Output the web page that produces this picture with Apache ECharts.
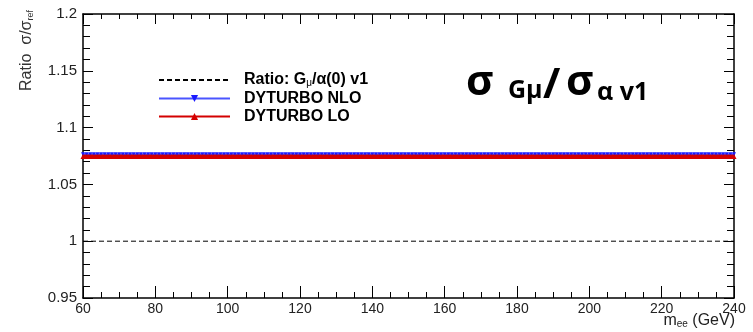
<!DOCTYPE html>
<html><head><meta charset="utf-8">
<script src="https://cdn.jsdelivr.net/npm/echarts@6/dist/echarts.min.js"></script>
<style>html,body{margin:0;padding:0;background:#fff}#c{width:753px;height:332px}</style>
</head><body><div id="c"></div>
<script>
var massBins = [
60,61,62,63,64,65,66,67,68,69,
70,71,72,73,74,75,76,77,78,79,
80,81,82,83,84,85,86,87,88,89,
90,91,92,93,94,95,96,97,98,99,
100,101,102,103,104,105,106,107,108,109,
110,111,112,113,114,115,116,117,118,119,
120,121,122,123,124,125,126,127,128,129,
130,131,132,133,134,135,136,137,138,139,
140,141,142,143,144,145,146,147,148,149,
150,151,152,153,154,155,156,157,158,159,
160,161,162,163,164,165,166,167,168,169,
170,171,172,173,174,175,176,177,178,179,
180,181,182,183,184,185,186,187,188,189,
190,191,192,193,194,195,196,197,198,199,
200,201,202,203,204,205,206,207,208,209,
210,211,212,213,214,215,216,217,218,219,
220,221,222,223,224,225,226,227,228,229,
230,231,232,233,234,235,236,237,238,239,
240];
var nloRatio = [
1.0765,1.0765,1.0765,1.0765,1.0765,1.0765,1.0765,1.0765,1.0765,1.0765,
1.0765,1.0765,1.0765,1.0765,1.0765,1.0765,1.0765,1.0765,1.0765,1.0765,
1.0765,1.0765,1.0765,1.0765,1.0765,1.0765,1.0765,1.0765,1.0765,1.0765,
1.0765,1.0765,1.0765,1.0765,1.0765,1.0765,1.0765,1.0765,1.0765,1.0765,
1.0765,1.0765,1.0765,1.0765,1.0765,1.0765,1.0765,1.0765,1.0765,1.0765,
1.0765,1.0765,1.0765,1.0765,1.0765,1.0765,1.0765,1.0765,1.0765,1.0765,
1.0765,1.0765,1.0765,1.0765,1.0765,1.0765,1.0765,1.0765,1.0765,1.0765,
1.0765,1.0765,1.0765,1.0765,1.0765,1.0765,1.0765,1.0765,1.0765,1.0765,
1.0765,1.0765,1.0765,1.0765,1.0765,1.0765,1.0765,1.0765,1.0765,1.0765,
1.0765,1.0765,1.0765,1.0765,1.0765,1.0765,1.0765,1.0765,1.0765,1.0765,
1.0765,1.0765,1.0765,1.0765,1.0765,1.0765,1.0765,1.0765,1.0765,1.0765,
1.0765,1.0765,1.0765,1.0765,1.0765,1.0765,1.0765,1.0765,1.0765,1.0765,
1.0765,1.0765,1.0765,1.0765,1.0765,1.0765,1.0765,1.0765,1.0765,1.0765,
1.0765,1.0765,1.0765,1.0765,1.0765,1.0765,1.0765,1.0765,1.0765,1.0765,
1.0765,1.0765,1.0765,1.0765,1.0765,1.0765,1.0765,1.0765,1.0765,1.0765,
1.0765,1.0765,1.0765,1.0765,1.0765,1.0765,1.0765,1.0765,1.0765,1.0765,
1.0765,1.0765,1.0765,1.0765,1.0765,1.0765,1.0765,1.0765,1.0765,1.0765,
1.0765,1.0765,1.0765,1.0765,1.0765,1.0765,1.0765,1.0765,1.0765,1.0765,
1.0765];
var loRatio = [
1.0745,1.0745,1.0745,1.0745,1.0745,1.0745,1.0745,1.0745,1.0745,1.0745,
1.0745,1.0745,1.0745,1.0745,1.0745,1.0745,1.0745,1.0745,1.0745,1.0745,
1.0745,1.0745,1.0745,1.0745,1.0745,1.0745,1.0745,1.0745,1.0745,1.0745,
1.0745,1.0745,1.0745,1.0745,1.0745,1.0745,1.0745,1.0745,1.0745,1.0745,
1.0745,1.0745,1.0745,1.0745,1.0745,1.0745,1.0745,1.0745,1.0745,1.0745,
1.0745,1.0745,1.0745,1.0745,1.0745,1.0745,1.0745,1.0745,1.0745,1.0745,
1.0745,1.0745,1.0745,1.0745,1.0745,1.0745,1.0745,1.0745,1.0745,1.0745,
1.0745,1.0745,1.0745,1.0745,1.0745,1.0745,1.0745,1.0745,1.0745,1.0745,
1.0745,1.0745,1.0745,1.0745,1.0745,1.0745,1.0745,1.0745,1.0745,1.0745,
1.0745,1.0745,1.0745,1.0745,1.0745,1.0745,1.0745,1.0745,1.0745,1.0745,
1.0745,1.0745,1.0745,1.0745,1.0745,1.0745,1.0745,1.0745,1.0745,1.0745,
1.0745,1.0745,1.0745,1.0745,1.0745,1.0745,1.0745,1.0745,1.0745,1.0745,
1.0745,1.0745,1.0745,1.0745,1.0745,1.0745,1.0745,1.0745,1.0745,1.0745,
1.0745,1.0745,1.0745,1.0745,1.0745,1.0745,1.0745,1.0745,1.0745,1.0745,
1.0745,1.0745,1.0745,1.0745,1.0745,1.0745,1.0745,1.0745,1.0745,1.0745,
1.0745,1.0745,1.0745,1.0745,1.0745,1.0745,1.0745,1.0745,1.0745,1.0745,
1.0745,1.0745,1.0745,1.0745,1.0745,1.0745,1.0745,1.0745,1.0745,1.0745,
1.0745,1.0745,1.0745,1.0745,1.0745,1.0745,1.0745,1.0745,1.0745,1.0745,
1.0745];
var refX = [60, 240];
var refRatio = [1.0, 1.0];
var seriesNames = ['Ratio: G{sub|μ}/α(0) v1', 'DYTURBO NLO', 'DYTURBO LO'];

function pairs(xs, ys){ return xs.map(function(x,i){ return [x, ys[i]]; }); }

var chart = echarts.init(document.getElementById('c'));
var F = 'Liberation Sans';
var B = 'Open Sans';
var tickCommon = { inside: true, lineStyle: { color: '#000', width: 1 } };
chart.setOption({
  animation: false,
  grid: { left: 83, right: 19, top: 14, bottom: 34 },
  legend: {
    orient: 'vertical', left: 153, top: 67, itemWidth: 71, itemHeight: 9, itemGap: 2,
    data: [{ name: seriesNames[0], itemStyle: { opacity: 0 } }, { name: seriesNames[1] }, { name: seriesNames[2] }],
    textStyle: { fontFamily: F, fontWeight: 'bold', fontSize: 16, color: '#000', padding: [0,0,0,9],
      rich: { sub: { fontFamily: F, fontSize: 10, fontWeight: 'normal', color: '#000', verticalAlign: 'bottom', padding: [7,0,0,0] } } }
  },
  xAxis: [{
    type: 'value', min: 60, max: 240, interval: 20,
    axisLine: { lineStyle: { color: '#000', width: 1.5 } },
    axisTick: Object.assign({ length: 12 }, tickCommon),
    minorTick: { show: true, splitNumber: 4, length: 6, lineStyle: { color: '#000' } },
    splitLine: { show: false },
    axisLabel: { fontFamily: F, fontSize: 14, color: '#222', margin: 4 }
  }, {
    type: 'value', min: 60, max: 240, interval: 20, position: 'top',
    axisLine: { lineStyle: { color: '#000', width: 1.5 } },
    axisTick: Object.assign({ length: 10 }, tickCommon),
    minorTick: { show: true, splitNumber: 4, length: 5, lineStyle: { color: '#000' } },
    splitLine: { show: false }, axisLabel: { show: false }
  }],
  yAxis: [{
    type: 'value', min: 0.95, max: 1.2, interval: 0.05,
    axisLine: { show: true, lineStyle: { color: '#000', width: 1.5 } },
    axisTick: Object.assign({ length: 10 }, tickCommon),
    minorTick: { show: true, splitNumber: 5, length: 7, lineStyle: { color: '#000' } },
    splitLine: { show: false },
    axisLabel: { fontFamily: F, fontSize: 15, color: '#222', margin: 6,
      formatter: function(v){ return String(Math.round(v*100)/100); } }
  }, {
    type: 'value', min: 0.95, max: 1.2, interval: 0.05, position: 'right',
    axisLine: { show: true, lineStyle: { color: '#000', width: 1.5 } },
    axisTick: Object.assign({ length: 10 }, tickCommon),
    minorTick: { show: true, splitNumber: 5, length: 7, lineStyle: { color: '#000' } },
    splitLine: { show: false }, axisLabel: { show: false }
  }],
  series: [{
    name: seriesNames[0], type: 'line', data: pairs(refX, refRatio), symbol: 'none',
    lineStyle: { color: '#000', width: 1, type: [5, 3] }, itemStyle: { color: '#000' }
  }, {
    name: seriesNames[1], type: 'line', data: pairs(massBins, nloRatio),
    symbol: 'path://M0,0 L10,0 L5,9 Z', symbolSize: 4,
    lineStyle: { color: '#4a55ff', width: 2 }, itemStyle: { color: '#1a1aff' }
  }, {
    name: seriesNames[2], type: 'line', data: pairs(massBins, loRatio),
    symbol: 'triangle', symbolSize: 5,
    lineStyle: { color: '#d40000', width: 4 }, itemStyle: { color: '#d40000' }
  }],
  graphic: [{
    type: 'text', x: 27, y: 10, rotation: Math.PI/2,
    style: { text: 'Ratio  σ/σ{s|ref}', align: 'right', verticalAlign: 'middle',
      fontFamily: F, fontSize: 16, fill: '#333',
      rich: { s: { fontFamily: F, fontSize: 9, fill: '#333', verticalAlign: 'bottom', padding: [7,0,0,0] } } }
  }, {
    type: 'text', x: 735, y: 321,
    style: { text: 'm{s|ee} (GeV)', align: 'right', verticalAlign: 'middle',
      fontFamily: F, fontSize: 16, fill: '#222',
      rich: { s: { fontFamily: F, fontSize: 10, fill: '#222', verticalAlign: 'bottom', padding: [7,0,0,0] } } }
  },
  { type: 'text', x: 466, y: 83, style: { text: 'σ', fontFamily: B, fontWeight: 'bold', fontSize: 42, fill: '#000', verticalAlign: 'middle' } },
  { type: 'text', x: 508, y: 91, style: { text: 'Gμ', fontFamily: B, fontWeight: 'bold', fontSize: 25, fill: '#000', verticalAlign: 'middle' } },
  { type: 'text', x: 543, y: 86, style: { text: '/', fontFamily: B, fontWeight: 'bold', fontSize: 42, fill: '#000', verticalAlign: 'middle' } },
  { type: 'text', x: 566, y: 83, style: { text: 'σ', fontFamily: B, fontWeight: 'bold', fontSize: 42, fill: '#000', verticalAlign: 'middle' } },
  { type: 'text', x: 597, y: 93, style: { text: 'α v1', fontFamily: B, fontWeight: 'bold', fontSize: 25, fill: '#000', verticalAlign: 'middle' } }
  ]
});
</script></body></html>
